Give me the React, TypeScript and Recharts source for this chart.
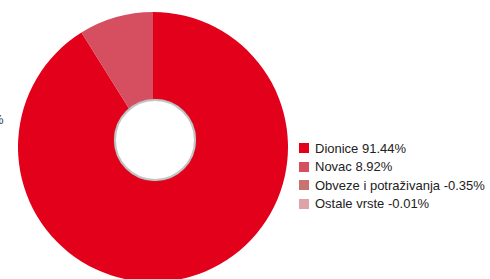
import React from 'react';
import { PieChart, Pie, Cell } from 'recharts';

const categories = ['Dionice', 'Novac', 'Obveze i potraživanja', 'Ostale vrste'];
const shares = [91.44, 8.92, -0.35, -0.01];
const colors = ['#e2001a', '#d64f60', '#c87272', '#dea3a7'];

// negative shares can't be drawn as slices, they only show up in the legend
const pieData = categories.map((name, i) => ({
  name,
  value: Math.max(0, shares[i]),
}));

const fmt = (v: number) => v.toFixed(2) + '%';

const App: React.FC = () => {
  return (
    <div
      style={{
        position: 'absolute',
        left: 0,
        top: 0,
        width: 490,
        height: 279,
        overflow: 'hidden',
        fontFamily: '"Liberation Sans", Arial, sans-serif',
        background: '#fff',
      }}
    >
      <PieChart width={490} height={279} margin={{ top: 0, right: 0, bottom: 0, left: 0 }}>
        <Pie
          data={pieData}
          dataKey="value"
          nameKey="name"
          cx={153}
          cy={147}
          outerRadius={135}
          innerRadius={0}
          startAngle={90}
          endAngle={-270}
          stroke="none"
          isAnimationActive={false}
        >
          {pieData.map((d, i) => (
            <Cell key={d.name} fill={colors[i]} />
          ))}
        </Pie>
      </PieChart>

      {/* white hole with grey rim, a bit off the pie centre like the original */}
      <div
        style={{
          position: 'absolute',
          left: 114,
          top: 99,
          width: 78,
          height: 78,
          borderRadius: '50%',
          background: '#fff',
          border: '2px solid #c4c4c4',
          boxShadow: '0 0 1px #999',
        }}
      />

      {/* clipped label fragment at the far left */}
      <div
        style={{
          position: 'absolute',
          left: -8,
          top: 112,
          fontSize: 13,
          color: '#333',
        }}
      >
        %
      </div>

      <div style={{ position: 'absolute', left: 299, top: 139 }}>
        {categories.map((name, i) => (
          <div
            key={name}
            style={{
              display: 'flex',
              alignItems: 'center',
              height: 18.5,
              fontSize: 13,
              color: '#222',
              whiteSpace: 'nowrap',
            }}
          >
            <span
              style={{
                display: 'inline-block',
                width: 10,
                height: 10,
                background: colors[i],
                marginRight: 6,
              }}
            />
            {name} {fmt(shares[i])}
          </div>
        ))}
      </div>
    </div>
  );
};

export default App;
